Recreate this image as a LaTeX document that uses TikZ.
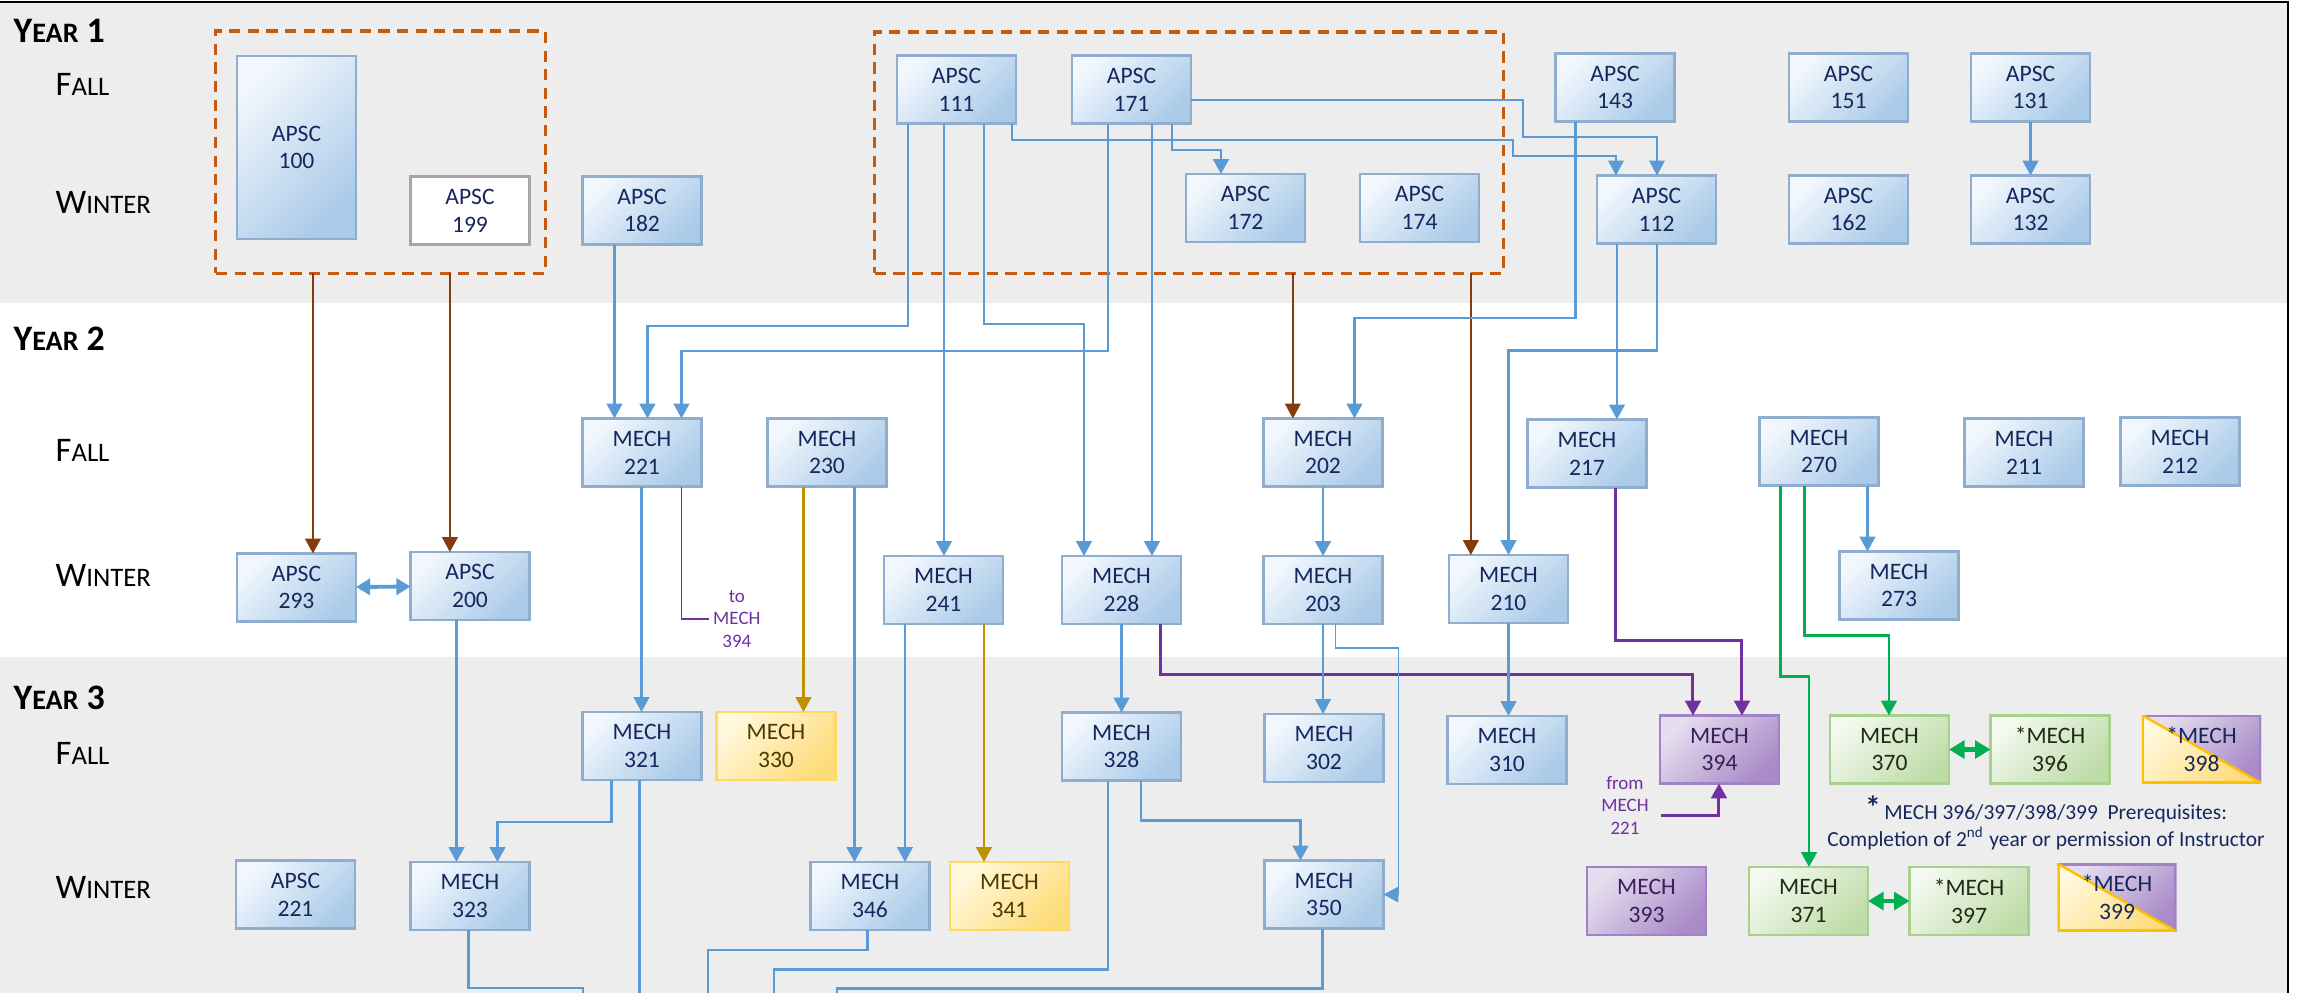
\documentclass[tikz,border=0pt]{standalone}
\usepackage{fontspec}
\setmainfont{Carlito}
\usetikzlibrary{arrows.meta,calc}
\definecolor{bandgray}{HTML}{EDEDED}
\definecolor{lnblue}{HTML}{5B9BD5}
\definecolor{bxblueA}{HTML}{F1F7FD}
\definecolor{bxblueB}{HTML}{AACAE8}
\definecolor{bdblue}{HTML}{8FADCF}
\definecolor{txnavy}{HTML}{16275E}
\definecolor{ylA}{HTML}{FFF8DC}
\definecolor{ylB}{HTML}{FFDC7A}
\definecolor{bdyl}{HTML}{FFD966}
\definecolor{txyl}{HTML}{4A3A05}
\definecolor{ppA}{HTML}{E6DEEF}
\definecolor{ppB}{HTML}{A98BC8}
\definecolor{bdpp}{HTML}{A282C6}
\definecolor{txpp}{HTML}{3A1F5C}
\definecolor{grA}{HTML}{F3F9EE}
\definecolor{grB}{HTML}{BEDCA8}
\definecolor{bdgr}{HTML}{A9D18E}
\definecolor{txgr}{HTML}{1F2A17}
\definecolor{lnbrown}{HTML}{843C0C}
\definecolor{lnorange}{HTML}{C55A11}
\definecolor{lngold}{HTML}{BF9000}
\definecolor{lnpurple}{HTML}{7030A0}
\definecolor{lngreen}{HTML}{00B050}
\definecolor{bdgray}{HTML}{A6A6A6}
\definecolor{splitbd}{HTML}{FFC000}
\newcommand\yearlab[1]{{\fontsize{10.2}{12}\selectfont Y}{\fontsize{8}{12}\selectfont EAR}{\fontsize{10.2}{12}\selectfont\ #1}}
\newcommand\seaslab[2]{{\fontsize{9.8}{12}\selectfont #1}{\fontsize{7.6}{12}\selectfont #2}}
\begin{document}
\begin{tikzpicture}[x=0.01cm,y=-0.01cm,
  >={Triangle[length=4.2pt,width=4.4pt]},
  course/.style={minimum width=1.19cm, minimum height=0.68cm, inner sep=0pt, outer sep=0pt, align=center, font=\fontsize{6.7}{7.9}\selectfont, line width=0.7pt},
  bluebox/.style={course, draw=bdblue, top color=bxblueA, bottom color=bxblueB, shading angle=45, text=txnavy},
  whitebox/.style={course, draw=bdgray, fill=white, text=txnavy},
  yellowbox/.style={course, draw=bdyl, top color=ylA, bottom color=ylB, shading angle=45, text=txyl},
  purplebox/.style={course, draw=bdpp, top color=ppA, bottom color=ppB, shading angle=45, text=txpp},
  greenbox/.style={course, draw=bdgr, top color=grA, bottom color=grB, shading angle=45, text=txgr},
  splitbox/.style={course, fill=ylA, text=txnavy, path picture={
    \shade[top color=ylA, bottom color=ylB, shading angle=45] (path picture bounding box.north west) -- (path picture bounding box.south west) -- (path picture bounding box.south east) -- cycle;
    \shade[top color=ppA, bottom color=ppB, shading angle=45] (path picture bounding box.north west) -- (path picture bounding box.north east) -- (path picture bounding box.south east) -- cycle;
    \draw[splitbd, line width=1.4pt] (path picture bounding box.north west) -- (path picture bounding box.south west) -- (path picture bounding box.south east);
    \draw[bdpp, line width=1.4pt] (path picture bounding box.north west) -- (path picture bounding box.north east) -- (path picture bounding box.south east);
    \draw[splitbd, line width=0.7pt] (path picture bounding box.north west) -- (path picture bounding box.south east);
  }},
  dashbox/.style={draw=lnorange, line width=0.9pt, dash pattern=on 3.2pt off 2.1pt, inner sep=0pt, outer sep=0pt},
  cblue/.style={draw=lnblue, line width=0.7pt, ->},
  cbluethin/.style={draw=lnblue, line width=0.4pt, ->},
  cblueend/.style={draw=lnblue, line width=0.7pt},
  cbrown/.style={draw=lnbrown, line width=0.6pt, ->},
  cgold/.style={draw=lngold, line width=0.7pt, ->},
  cpurple/.style={draw=lnpurple, line width=0.85pt, ->},
  cpurplethin/.style={draw=lnpurple, line width=0.4pt},
  cgreen/.style={draw=lngreen, line width=0.8pt, ->},
  dblblue/.style={draw=lnblue, line width=1.1pt, {Triangle[length=4pt,width=4.6pt]}-{Triangle[length=4pt,width=4.6pt]}},
  dblgreen/.style={draw=lngreen, line width=1.2pt, {Triangle[length=4.4pt,width=5pt]}-{Triangle[length=4.4pt,width=5pt]}},
  seas/.style={anchor=base west, inner sep=0pt, text=black},
  smalltxt/.style={text=lnpurple, font=\fontsize{5.4}{6.4}\selectfont, align=center, inner sep=1pt},
  notetext/.style={text=txnavy, font=\fontsize{6.1}{7.7}\selectfont, align=center, inner sep=0pt}
]
\useasboundingbox (0,0) rectangle (2300,993);
% bands and frame
\fill[bandgray] (0,3) rectangle (2288,303);
\fill[bandgray] (0,657) rectangle (2288,993);
\draw[black, line width=0.8pt] (0,2) -- (2288,2) -- (2288,993);
\coordinate (bot) at (0,993);

% row labels
\node[seas, font=\bfseries] (y1) at (13,42) {\yearlab{1}};
\node[seas] (f1) at (55,95) {\seaslab{F}{ALL}};
\node[seas] (w1) at (55,213) {\seaslab{W}{INTER}};
\node[seas, font=\bfseries] (y2) at (13,350) {\yearlab{2}};
\node[seas] (f2) at (55,461) {\seaslab{F}{ALL}};
\node[seas] (w2) at (55,586) {\seaslab{W}{INTER}};
\node[seas, font=\bfseries] (y3) at (13,709) {\yearlab{3}};
\node[seas] (f3) at (55,764) {\seaslab{F}{ALL}};
\node[seas] (w3) at (55,898) {\seaslab{W}{INTER}};

% dashed groups
\node[dashbox, minimum width=3.29cm, minimum height=2.42cm] (db1) at (380.5,152) {};
\node[dashbox, minimum width=6.28cm, minimum height=2.41cm] (db2) at (1189,152.5) {};

% Year 1
\node[bluebox, minimum height=1.83cm] (a100) at (296.5,147.5) {APSC\\100};
\node[whitebox] (a199) at (470,210.5) {APSC\\199};
\node[bluebox] (a182) at (642,210.5) {APSC\\182};
\node[bluebox] (a111) at (956.5,89.5) {APSC\\111};
\node[bluebox] (a171) at (1131.5,89.5) {APSC\\171};
\node[bluebox] (a172) at (1245.5,208) {APSC\\172};
\node[bluebox] (a174) at (1419.5,208) {APSC\\174};
\node[bluebox] (a143) at (1615,87.5) {APSC\\143};
\node[bluebox] (a151) at (1848.5,87.5) {APSC\\151};
\node[bluebox] (a131) at (2030.5,87.5) {APSC\\131};
\node[bluebox] (a112) at (1656.5,209.5) {APSC\\112};
\node[bluebox] (a162) at (1848.5,209.5) {APSC\\162};
\node[bluebox] (a132) at (2030.5,209.5) {APSC\\132};

% Year 2
\node[bluebox] (m221) at (642,452.5) {MECH\\221};
\node[bluebox] (m230) at (827,452.5) {MECH\\230};
\node[bluebox] (m202) at (1323,452.5) {MECH\\202};
\node[bluebox] (m217) at (1587,453.5) {MECH\\217};
\node[bluebox] (m270) at (1819,451.5) {MECH\\270};
\node[bluebox] (m211) at (2024,452.5) {MECH\\211};
\node[bluebox] (m212) at (2180,451.5) {MECH\\212};
\node[bluebox] (a293) at (296.5,587.5) {APSC\\293};
\node[bluebox] (a200) at (470,586) {APSC\\200};
\node[bluebox] (m241) at (943.5,590) {MECH\\241};
\node[bluebox] (m228) at (1121.5,590) {MECH\\228};
\node[bluebox] (m203) at (1323,590) {MECH\\203};
\node[bluebox] (m210) at (1508.5,589) {MECH\\210};
\node[bluebox] (m273) at (1899,585.5) {MECH\\273};

% Year 3
\node[bluebox] (m321) at (642,746) {MECH\\321};
\node[yellowbox] (m330) at (776,746) {MECH\\330};
\node[bluebox] (m328) at (1121.5,746.5) {MECH\\328};
\node[bluebox] (m302) at (1324,748) {MECH\\302};
\node[bluebox] (m310) at (1507,750) {MECH\\310};
\node[purplebox] (m394) at (1719.5,749.5) {MECH\\394};
\node[greenbox] (m370) at (1889.5,749.5) {MECH\\370};
\node[greenbox] (m396) at (2050,749.5) {*MECH\\396};
\node[splitbox] (m398) at (2201.5,749) {*MECH\\398};
\node[bluebox] (a221) at (295.5,894.5) {APSC\\221};
\node[bluebox] (m323) at (470,896) {MECH\\323};
\node[bluebox] (m346) at (870,896) {MECH\\346};
\node[yellowbox] (m341) at (1009.5,896) {MECH\\341};
\node[bluebox] (m350) at (1324,894.5) {MECH\\350};
\node[purplebox] (m393) at (1646.5,901) {MECH\\393};
\node[greenbox] (m371) at (1808.5,901) {MECH\\371};
\node[greenbox] (m397) at (1969,901) {*MECH\\397};
\node[splitbox] (m399) at (2117,897.5) {*MECH\\399};

% texts
\node[smalltxt, anchor=west] (totxt) at (709,619) {to\\MECH\\394};
\node[smalltxt] (fromtxt) at (1625,805) {from\\MECH\\221};
\coordinate (p3s) at (1661,815);
\node[notetext] (note) at (2046,823) {\raisebox{0.3pt}{\fontsize{9}{9}\selectfont\bfseries *}\,MECH 396/397/398/399~~Prerequisites:\\Completion of 2\textsuperscript{nd} year or permission of Instructor};

% brown connectors
\draw[cbrown] ($(db1.south west)+(97,0)$) coordinate (t) -- (t |- a293.north);
\draw[cbrown] ($(db1.south west)+(234,0)$) coordinate (t) -- (t |- a200.north);
\draw[cbrown] ($(db2.south west)+(418,0)$) coordinate (t) -- (t |- m202.north);
\draw[cbrown] ($(db2.south west)+(596,0)$) coordinate (t) -- (t |- m210.north);

% blue connectors, year 1 to 2
\draw[cblue] ($(a182.south west)+(32,0)$) coordinate (t) -- (t |- m221.north);
\draw[cblue] ($(a111.south west)+(11,0)$) -- ++(0,202.5) -| ($(m221.north west)+(65,0)$);
\draw[cblue] ($(a171.south west)+(36,0)$) -- ++(0,227.5) -| ($(m221.north west)+(99,0)$);
\draw[cblue] ($(a111.south west)+(47,0)$) coordinate (t) -- (t |- m241.north);
\draw[cblue] ($(a111.south west)+(87,0)$) -- ++(0,200.5) -| ($(m228.north west)+(22,0)$);
\draw[cblue] ($(a171.south west)+(80,0)$) coordinate (t) -- (t |- m228.north);
\draw[cblue] ($(a171.south west)+(100,0)$) -- ++(0,26.5) -| ($(a172.north west)+(35,0)$);
\draw[cbluethin] ($(a171.east)+(0,10.5)$) -- ++(332,0) -- ++(0,37) -| ($(a112.north west)+(60,0)$);
\draw[cbluethin] ($(a111.south west)+(115,0)$) -- ++(0,16.5) -- ++(501,0) -- ++(0,16) -| ($(a112.north west)+(19,0)$);
\draw[cblue] (a131) -- (a132);
\draw[cblue] ($(a143.south west)+(20,0)$) -- ++(0,196.5) -| ($(m202.north west)+(91,0)$);
\draw[cblue] ($(a112.south west)+(20,0)$) coordinate (t) -- (t |- m217.north);
\draw[cblue] ($(a112.south west)+(60,0)$) -- ++(0,107) -| (m210.north);

% year 2 internal
\draw[dblblue] (a293) -- (a200);
\draw[cblue] (m202) -- (m203);
\draw[cblue] ($(m270.south west)+(108,0)$) coordinate (t) -- (t |- m273.north);

% year 2 to 3
\draw[cblue] ($(m221.south west)+(59,0)$) coordinate (t) -- (t |- m321.north);
\draw[cpurplethin] ($(m221.south west)+(99,0)$) |- (totxt.west);
\draw[cblue] ($(a200.south west)+(46,0)$) coordinate (t) -- (t |- m323.north);
\draw[cgold] ($(m230.south west)+(36,0)$) coordinate (t) -- (t |- m330.north);
\draw[cblue] ($(m230.south west)+(87,0)$) coordinate (t) -- (t |- m346.north);
\draw[cblue] ($(m241.south west)+(21,0)$) coordinate (t) -- (t |- m346.north);
\draw[cgold] ($(m241.south west)+(100,0)$) coordinate (t) -- (t |- m341.north);
\draw[cblue] (m228) -- (m328);
\draw[cpurple] ($(m228.south west)+(99,0)$) -- ++(0,50) -| ($(m394.north west)+(33,0)$);
\draw[cblue] (m203.south) coordinate (t) -- (t |- m302.north);
\draw[cbluethin] ($(m203.south west)+(72,0)$) -- ++(0,24) -- ++(63,0) |- (m350.east);
\draw[cblue] (m210.south) coordinate (t) -- (t |- m310.north);
\draw[cpurple] ($(m217.south west)+(88,0)$) -- ++(0,153) -| ($(m394.north west)+(82,0)$);
\draw[cgreen] ($(m270.south west)+(45,0)$) -- ++(0,150) -| ($(m370.north west)+(59,0)$);
\draw[cgreen] ($(m270.south west)+(21,0)$) -- ++(0,191) -| ($(m371.north west)+(60,0)$);

% year 3 internal
\draw[cblue] ($(m321.south west)+(29,0)$) -- ++(0,42) -| ($(m323.north west)+(87,0)$);
\draw[cblue] ($(m328.south west)+(79,0)$) -- ++(0,40) -| ($(m350.north west)+(36,0)$);
\draw[cpurple] (p3s) -| ($(m394.south west)+(59,0)$);
\draw[dblgreen] (m370) -- (m396);
\draw[dblgreen] (m371) -- (m397);

% lines leaving at the bottom
\coordinate (e1) at (583,993);
\coordinate (e2) at (708,993);
\coordinate (e3) at (774,993);
\coordinate (e4) at (837,993);
\draw[cblueend] ($(m321.south west)+(57,0)$) coordinate (t) -- (t |- bot);
\draw[cblueend] ($(m323.south west)+(58,0)$) -- ++(0,58) -| (e1);
\draw[cblueend] ($(m346.south west)+(57,0)$) -- ++(0,20) -| (e2);
\draw[cblueend] ($(m328.south west)+(46,0)$) -- ++(0,189) -| (e3);
\draw[cblueend] ($(m350.south west)+(58,0)$) -- ++(0,60) -| (e4);
\end{tikzpicture}
\end{document}
